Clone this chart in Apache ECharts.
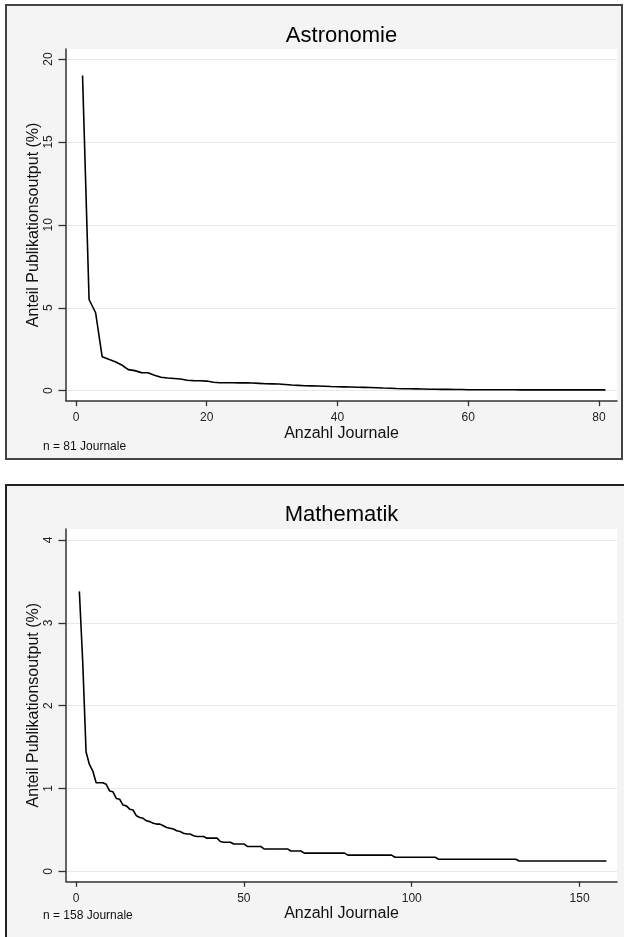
<!DOCTYPE html>
<html><head><meta charset="utf-8">
<script src="https://cdn.jsdelivr.net/npm/echarts@6/dist/echarts.min.js"></script>
<style>html,body{margin:0;padding:0;background:#fff}#c{width:624px;height:937px}</style>
</head><body><div id="c"></div>
<script>
// ---- data ----
const astroTitle = 'Astronomie';
const mathTitle = 'Mathematik';
const astroNote = 'n = 81 Journale';
const mathNote = 'n = 158 Journale';
const xName = 'Anzahl Journale';
const yName = 'Anteil Publikationsoutput (%)';

const astroValues = [
  19.0, 5.5, 4.7, 2.05, 1.9, 1.75, 1.55, 1.27, 1.21, 1.09,
  1.08, 0.93, 0.81, 0.77, 0.74, 0.71, 0.63, 0.61, 0.60, 0.58,
  0.51, 0.48, 0.48, 0.48, 0.47, 0.47, 0.46, 0.44, 0.42, 0.41,
  0.40, 0.37, 0.34, 0.32, 0.30, 0.29, 0.28, 0.27, 0.25, 0.24,
  0.23, 0.22, 0.21, 0.20, 0.19, 0.18, 0.16, 0.15, 0.13, 0.12,
  0.12, 0.11, 0.10, 0.09, 0.09, 0.08, 0.08, 0.07, 0.07, 0.06,
  0.06, 0.06, 0.06, 0.06, 0.06, 0.06, 0.06, 0.05, 0.05, 0.05,
  0.05, 0.05, 0.05, 0.05, 0.05, 0.05, 0.05, 0.05, 0.05, 0.05,
  0.05
];
const mathValues = [
  3.38, 2.53, 1.44, 1.29, 1.21, 1.07, 1.07, 1.07, 1.05, 0.97,
  0.96, 0.88, 0.87, 0.80, 0.79, 0.75, 0.74, 0.67, 0.65, 0.64,
  0.61, 0.60, 0.58, 0.57, 0.57, 0.55, 0.53, 0.52, 0.51, 0.49,
  0.48, 0.46, 0.45, 0.45, 0.43, 0.42, 0.42, 0.42, 0.40, 0.40,
  0.40, 0.40, 0.36, 0.35, 0.35, 0.35, 0.33, 0.33, 0.33, 0.33,
  0.30, 0.30, 0.30, 0.30, 0.30, 0.27, 0.27, 0.27, 0.27, 0.27,
  0.27, 0.27, 0.27, 0.245, 0.245, 0.245, 0.245, 0.22, 0.22, 0.22,
  0.22, 0.22, 0.22, 0.22, 0.22, 0.22, 0.22, 0.22, 0.22, 0.22,
  0.195, 0.195, 0.195, 0.195, 0.195, 0.195, 0.195, 0.195, 0.195, 0.195,
  0.195, 0.195, 0.195, 0.195, 0.17, 0.17, 0.17, 0.17, 0.17, 0.17,
  0.17, 0.17, 0.17, 0.17, 0.17, 0.17, 0.17, 0.145, 0.145, 0.145,
  0.145, 0.145, 0.145, 0.145, 0.145, 0.145, 0.145, 0.145, 0.145, 0.145,
  0.145, 0.145, 0.145, 0.145, 0.145, 0.145, 0.145, 0.145, 0.145, 0.145,
  0.145, 0.125, 0.125, 0.125, 0.125, 0.125, 0.125, 0.125, 0.125, 0.125,
  0.125, 0.125, 0.125, 0.125, 0.125, 0.125, 0.125, 0.125, 0.125, 0.125,
  0.125, 0.125, 0.125, 0.125, 0.125, 0.125, 0.125, 0.125
];
const astroXTicks = [0, 20, 40, 60, 80];
const astroYTicks = [0, 5, 10, 15, 20];
const mathXTicks = [0, 50, 100, 150];
const mathYTicks = [0, 1, 2, 3, 4];

// ---- chart ----
const FONT = "'Liberation Sans', Arial, sans-serif";
const toPoints = vals => vals.map((v, i) => [i + 1, v]);

function makeX(gridIndex, min, max, ticks) {
  return {
    type: 'value', gridIndex, min, max,
    name: xName, nameLocation: 'middle', nameGap: 24.5, nameMoveOverlap: false,
    nameTextStyle: { fontSize: 16, color: '#111', fontFamily: FONT },
    axisLine: { show: true, onZero: false, lineStyle: { color: '#333', width: 1.5 } },
    axisTick: { show: true, length: 5.5, customValues: ticks, lineStyle: { color: '#333', width: 1.3 } },
    axisLabel: { customValues: ticks, fontSize: 12, color: '#222', margin: 11, fontFamily: FONT },
    splitLine: { show: false }
  };
}
function makeY(gridIndex, min, max, ticks) {
  return {
    type: 'value', gridIndex, min, max,
    name: yName, nameLocation: 'middle', nameGap: 24, nameMoveOverlap: false,
    nameTextStyle: { fontSize: 16, color: '#111', fontFamily: FONT },
    axisLine: { show: true, onZero: false, lineStyle: { color: '#333', width: 1.5 } },
    axisTick: { show: true, length: 7.5, customValues: ticks, lineStyle: { color: '#333', width: 1.3 } },
    axisLabel: { customValues: ticks, rotate: 90, fontSize: 12, color: '#222', margin: 11, fontFamily: FONT },
    splitLine: { show: true, lineStyle: { color: '#e8e8e8', width: 1 } }
  };
}

const chart = echarts.init(document.getElementById('c'), null, { renderer: 'canvas' });
chart.setOption({
  animation: false,
  backgroundColor: '#fff',
  textStyle: { fontFamily: FONT },
  graphic: { elements: [
    { type: 'rect', z: -10, shape: { x: 6, y: 5, width: 616, height: 454 },
      style: { fill: '#f4f4f4', stroke: '#444', lineWidth: 2 } },
    { type: 'rect', z: -10, shape: { x: 6, y: 485, width: 640, height: 480 },
      style: { fill: '#f4f4f4', stroke: '#222', lineWidth: 2 } },
    { type: 'text', z: 10, x: 341.5, y: 36, style: { text: astroTitle, fontSize: 22, fill: '#000',
      fontFamily: FONT, align: 'center', verticalAlign: 'middle' } },
    { type: 'text', z: 10, x: 341.5, y: 515, style: { text: mathTitle, fontSize: 22, fill: '#000',
      fontFamily: FONT, align: 'center', verticalAlign: 'middle' } },
    { type: 'text', z: 10, x: 43, y: 447, style: { text: astroNote, fontSize: 12, fill: '#111',
      fontFamily: FONT, align: 'left', verticalAlign: 'middle' } },
    { type: 'text', z: 10, x: 43, y: 916, style: { text: mathNote, fontSize: 12, fill: '#111',
      fontFamily: FONT, align: 'left', verticalAlign: 'middle' } }
  ] },
  grid: [
    { left: 66, top: 49, width: 551, height: 351.7, show: true, backgroundColor: '#fff', borderWidth: 0 },
    { left: 66, top: 529, width: 551, height: 352.3, show: true, backgroundColor: '#fff', borderWidth: 0 }
  ],
  xAxis: [ makeX(0, -1.53, 82.76, astroXTicks), makeX(1, -2.98, 161.15, mathXTicks) ],
  yAxis: [ makeY(0, -0.603, 20.603, astroYTicks), makeY(1, -0.1207, 4.133, mathYTicks) ],
  series: [
    { type: 'line', name: astroTitle, xAxisIndex: 0, yAxisIndex: 0, data: toPoints(astroValues),
      showSymbol: false, symbol: 'none', lineStyle: { color: '#000', width: 1.6 }, z: 5 },
    { type: 'line', name: mathTitle, xAxisIndex: 1, yAxisIndex: 1, data: toPoints(mathValues),
      showSymbol: false, symbol: 'none', lineStyle: { color: '#000', width: 1.6 }, z: 5 }
  ]
});
</script>
</body></html>
